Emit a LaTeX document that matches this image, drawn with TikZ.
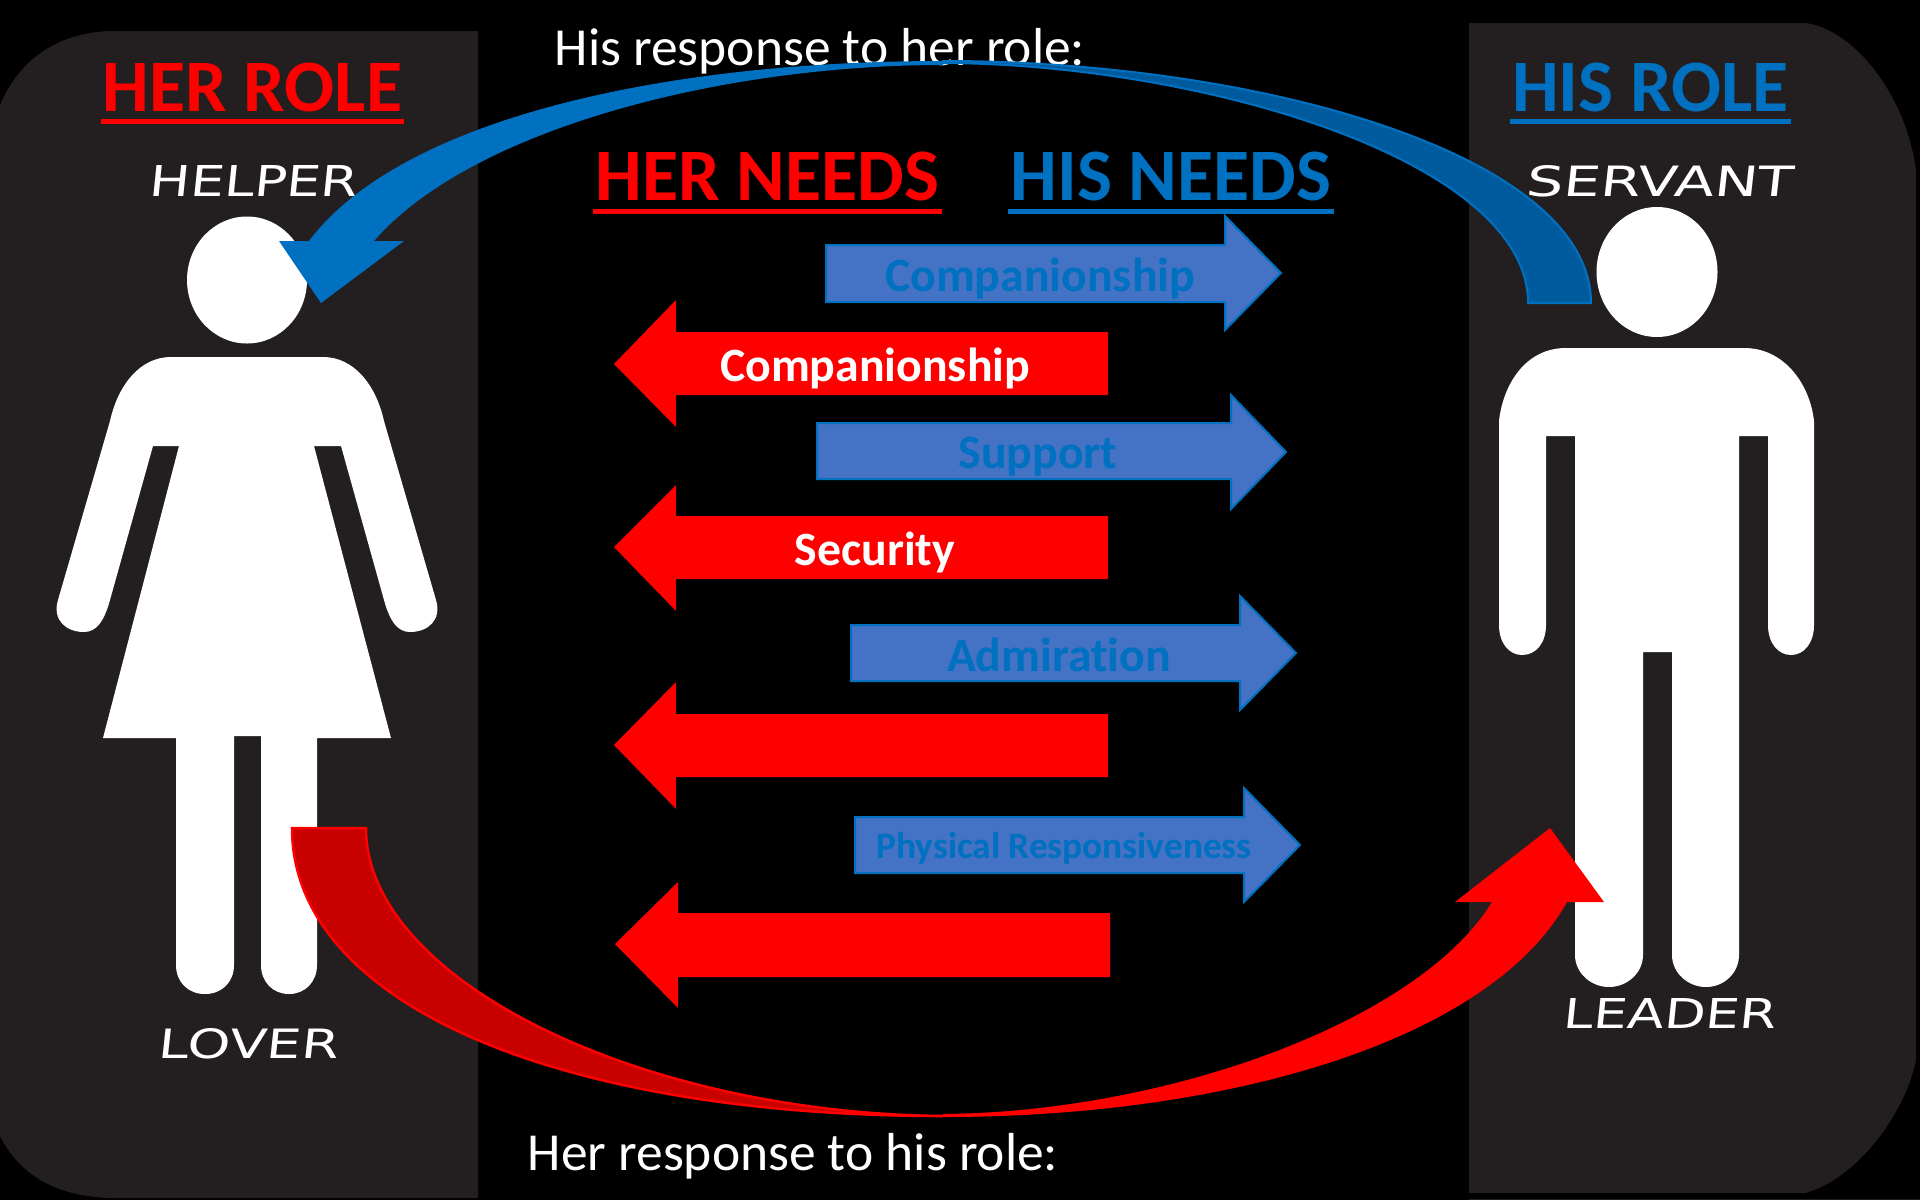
\documentclass[tikz,border=0pt]{standalone}
\usepackage{fontspec}
\setmainfont{Carlito}[Ligatures=NoCommon]
\newfontfamily\handfont[FakeSlant=0.08]{DejaVu Sans}
\definecolor{panelgray}{HTML}{231F20}
\definecolor{herred}{HTML}{FF0000}
\definecolor{herdark}{HTML}{C80000}
\definecolor{hisblue}{HTML}{0070C0}
\definecolor{hisdark}{HTML}{005A9E}
\definecolor{needfill}{HTML}{4472C4}
\tikzset{
  panel/.style={fill=panelgray},
  figure/.style={fill=white},
  rolehead/.style={anchor=base, inner sep=0pt, font=\fontsize{74}{80}\selectfont\bfseries},
  headrule/.style={line width=5pt},
  response/.style={anchor=base, inner sep=0pt, white, font=\fontsize{53.5}{58}\selectfont},
  handlabel/.style={inner sep=0pt, white},
  hisneed/.style={fill=needfill, draw=hisblue, line width=2pt},
  herneed/.style={fill=herred},
  needtext/.style={inner sep=0pt, font=\fontsize{47.8}{52}\selectfont\bfseries},
}
\newcommand{\handtext}[3]{\resizebox{#1pt}{#2pt}{\handfont\fontsize{30}{32}\selectfont #3}}
\begin{document}
\begin{tikzpicture}[x=1pt, y=-1pt]
      \useasboundingbox (0, 0) rectangle (1920, 1200);
      \fill [black] (0, 0) rectangle (1920, 1200);
      \fill [panel] (478, 31) -- (110, 31) .. controls (55, 33) and (18, 62) .. (0, 105) -- (0, 1136) .. controls (20, 1175) and (55, 1196) .. (110, 1198) -- (478, 1198) -- cycle;
      \fill [panel] (1469, 23) -- (1805, 23) .. controls (1850, 28) and (1905, 90) .. (1916, 170) -- (1916, 1060) .. controls (1905, 1115) and (1855, 1180) .. (1805, 1193) -- (1469, 1193) -- cycle;
      \fill [panel] (1469, 1199) rectangle (1920, 1200);

      \fill [figure] (247, 280) ellipse [x radius=60, y radius=63.5];
      \fill [figure] (171, 357) -- (323, 357) .. controls (354, 357) and (376, 385) .. (384, 421) -- (436, 600) .. controls (442, 620) and (428, 632) .. (410, 632) .. controls (398, 632) and (390, 622) .. (384, 600) -- (341, 446) -- (314, 446) -- (391, 738) -- (317, 738) -- (317, 965) .. controls (317, 982) and (305, 994) .. (289, 994) .. controls (273, 994) and (261, 982) .. (261, 965) -- (261, 736) -- (234, 736) -- (234, 965) .. controls (234, 982) and (222, 994) .. (205, 994) .. controls (188, 994) and (176, 982) .. (176, 965) -- (176, 738) -- (103, 738) -- (179, 446) -- (153, 446) -- (110, 600) .. controls (104, 622) and (96, 632) .. (84, 632) .. controls (66, 632) and (52, 620) .. (58, 600) -- (110, 421) .. controls (118, 385) and (140, 357) .. (171, 357) -- cycle;
      \fill [figure] (1657, 272) ellipse [x radius=60.5, y radius=65];
      \fill [figure] (1566, 348) -- (1744, 348) .. controls (1785, 348) and (1810, 385) .. (1814, 421) -- (1814, 625) .. controls (1814, 643) and (1804, 655) .. (1791, 655) .. controls (1778, 655) and (1768, 643) .. (1768, 625) -- (1768, 436) -- (1739, 436) -- (1739, 955) .. controls (1739, 973) and (1724, 987) .. (1706, 987) .. controls (1688, 987) and (1672, 973) .. (1672, 955) -- (1672, 652) -- (1643, 652) -- (1643, 955) .. controls (1643, 973) and (1627, 987) .. (1609, 987) .. controls (1591, 987) and (1575, 973) .. (1575, 955) -- (1575, 436) -- (1546, 436) -- (1546, 625) .. controls (1546, 643) and (1536, 655) .. (1522, 655) .. controls (1509, 655) and (1499, 643) .. (1499, 625) -- (1499, 421) .. controls (1503, 385) and (1525, 348) .. (1566, 348) -- cycle;

      \draw [herred] (252.5, 111) node[rolehead] (herrole) {HER ROLE};
      \draw [hisblue] (1650.5, 111) node[rolehead] (hisrole) {HIS ROLE};
      \draw [herred] (767.5, 200) node[rolehead] (herneeds) {HER NEEDS};
      \draw [hisblue] (1171, 200) node[rolehead] (hisneeds) {HIS NEEDS};
      \draw [herred, headrule] ([shift={(-2pt,-10.5pt)}]herrole.base west) -- ([shift={(2pt,-10.5pt)}]herrole.base east);
      \draw [hisblue, headrule] ([shift={(-2pt,-10.5pt)}]hisrole.base west) -- ([shift={(2pt,-10.5pt)}]hisrole.base east);
      \draw [herred, headrule] ([shift={(-2pt,-11pt)}]herneeds.base west) -- ([shift={(2pt,-11pt)}]herneeds.base east);
      \draw [hisblue, headrule] ([shift={(-2pt,-11pt)}]hisneeds.base west) -- ([shift={(2pt,-11pt)}]hisneeds.base east);

      \draw (253, 181) node[handlabel] (helper) {\handtext{209}{31}{HELPER}};
      \draw (1659, 181) node[handlabel] (servant) {\handtext{267}{31}{SERVANT}};
      \draw (248, 1044) node[handlabel] (lover) {\handtext{180}{30}{LOVER}};
      \draw (1669, 1013) node[handlabel] (leader) {\handtext{213}{30}{LEADER}};

      \draw (820, 65) node[response] (hisresponse) {His response to her role:};
      \draw (793, 1170) node[response] (herresponse) {Her response to his role:};

      \draw [hisneed] (826, 245) -- (1225, 245) -- (1225, 216) -- (1281, 273) -- (1225, 330) -- (1225, 302) -- (826, 302) -- cycle;
      \draw [hisneed] (817, 423) -- (1231, 423) -- (1231, 395) -- (1286, 452) -- (1231, 509) -- (1231, 479) -- (817, 479) -- cycle;
      \draw [hisneed] (851, 625) -- (1240, 625) -- (1240, 596) -- (1296, 653) -- (1240, 710) -- (1240, 681) -- (851, 681) -- cycle;
      \draw [hisneed] (855, 817) -- (1244, 817) -- (1244, 788) -- (1300, 845) -- (1244, 902) -- (1244, 873) -- (855, 873) -- cycle;
      \fill [herneed] (614, 364) -- (676, 300) -- (676, 332) -- (1108, 332) -- (1108, 395) -- (676, 395) -- (676, 427) -- cycle;
      \fill [herneed] (614, 547) -- (676, 485) -- (676, 516) -- (1108, 516) -- (1108, 579) -- (676, 579) -- (676, 611) -- cycle;
      \fill [herneed] (614, 745) -- (676, 682) -- (676, 714) -- (1108, 714) -- (1108, 777) -- (676, 777) -- (676, 809) -- cycle;
      \fill [herneed] (615, 944) -- (678, 882) -- (678, 913) -- (1110, 913) -- (1110, 977) -- (678, 977) -- (678, 1008) -- cycle;

      \draw [hisblue] (1040, 278) node[needtext] (hiscompanionship) {Companionship};
      \draw [hisblue] (1038, 457) node[needtext] (support) {Support};
      \draw [hisblue] (1059, 655) node[needtext] (admiration) {Admiration};
      \draw [hisblue] (1064, 848) node[needtext, font=\fontsize{37.3}{40}\selectfont\bfseries] (physical) {Physical Responsiveness};
      \draw [white] (875, 368) node[needtext] (hercompanionship) {Companionship};
      \draw [white] (875, 552) node[needtext] (security) {Security};

      \draw [fill=hisdark, draw=hisblue, line width=2pt] (943, 61) .. controls (1260, 61) and (1591, 155) .. (1591, 303) -- (1528, 303) .. controls (1528, 160) and (1200, 64) .. (943, 63) -- cycle;
      \fill [hisblue] (943, 61) .. controls (660, 61) and (400, 120) .. (309, 241) -- (279, 241) -- (321, 303) -- (404, 241) -- (374, 241) .. controls (470, 130) and (720, 65) .. (943, 65) -- cycle;
      \draw [fill=herdark, draw=herred, line width=2.5pt] (292, 828) .. controls (292, 1005) and (560, 1116) .. (943, 1116) .. controls (640, 1113) and (366, 980) .. (366, 828) -- cycle;
      \fill [herred] (943, 1117) .. controls (1230, 1117) and (1490, 1040) .. (1567, 902) -- (1604, 902) -- (1550, 828) -- (1455, 902) -- (1492, 902) .. controls (1420, 1020) and (1170, 1112) .. (943, 1114) -- cycle;
    \end{tikzpicture}
\end{document}
